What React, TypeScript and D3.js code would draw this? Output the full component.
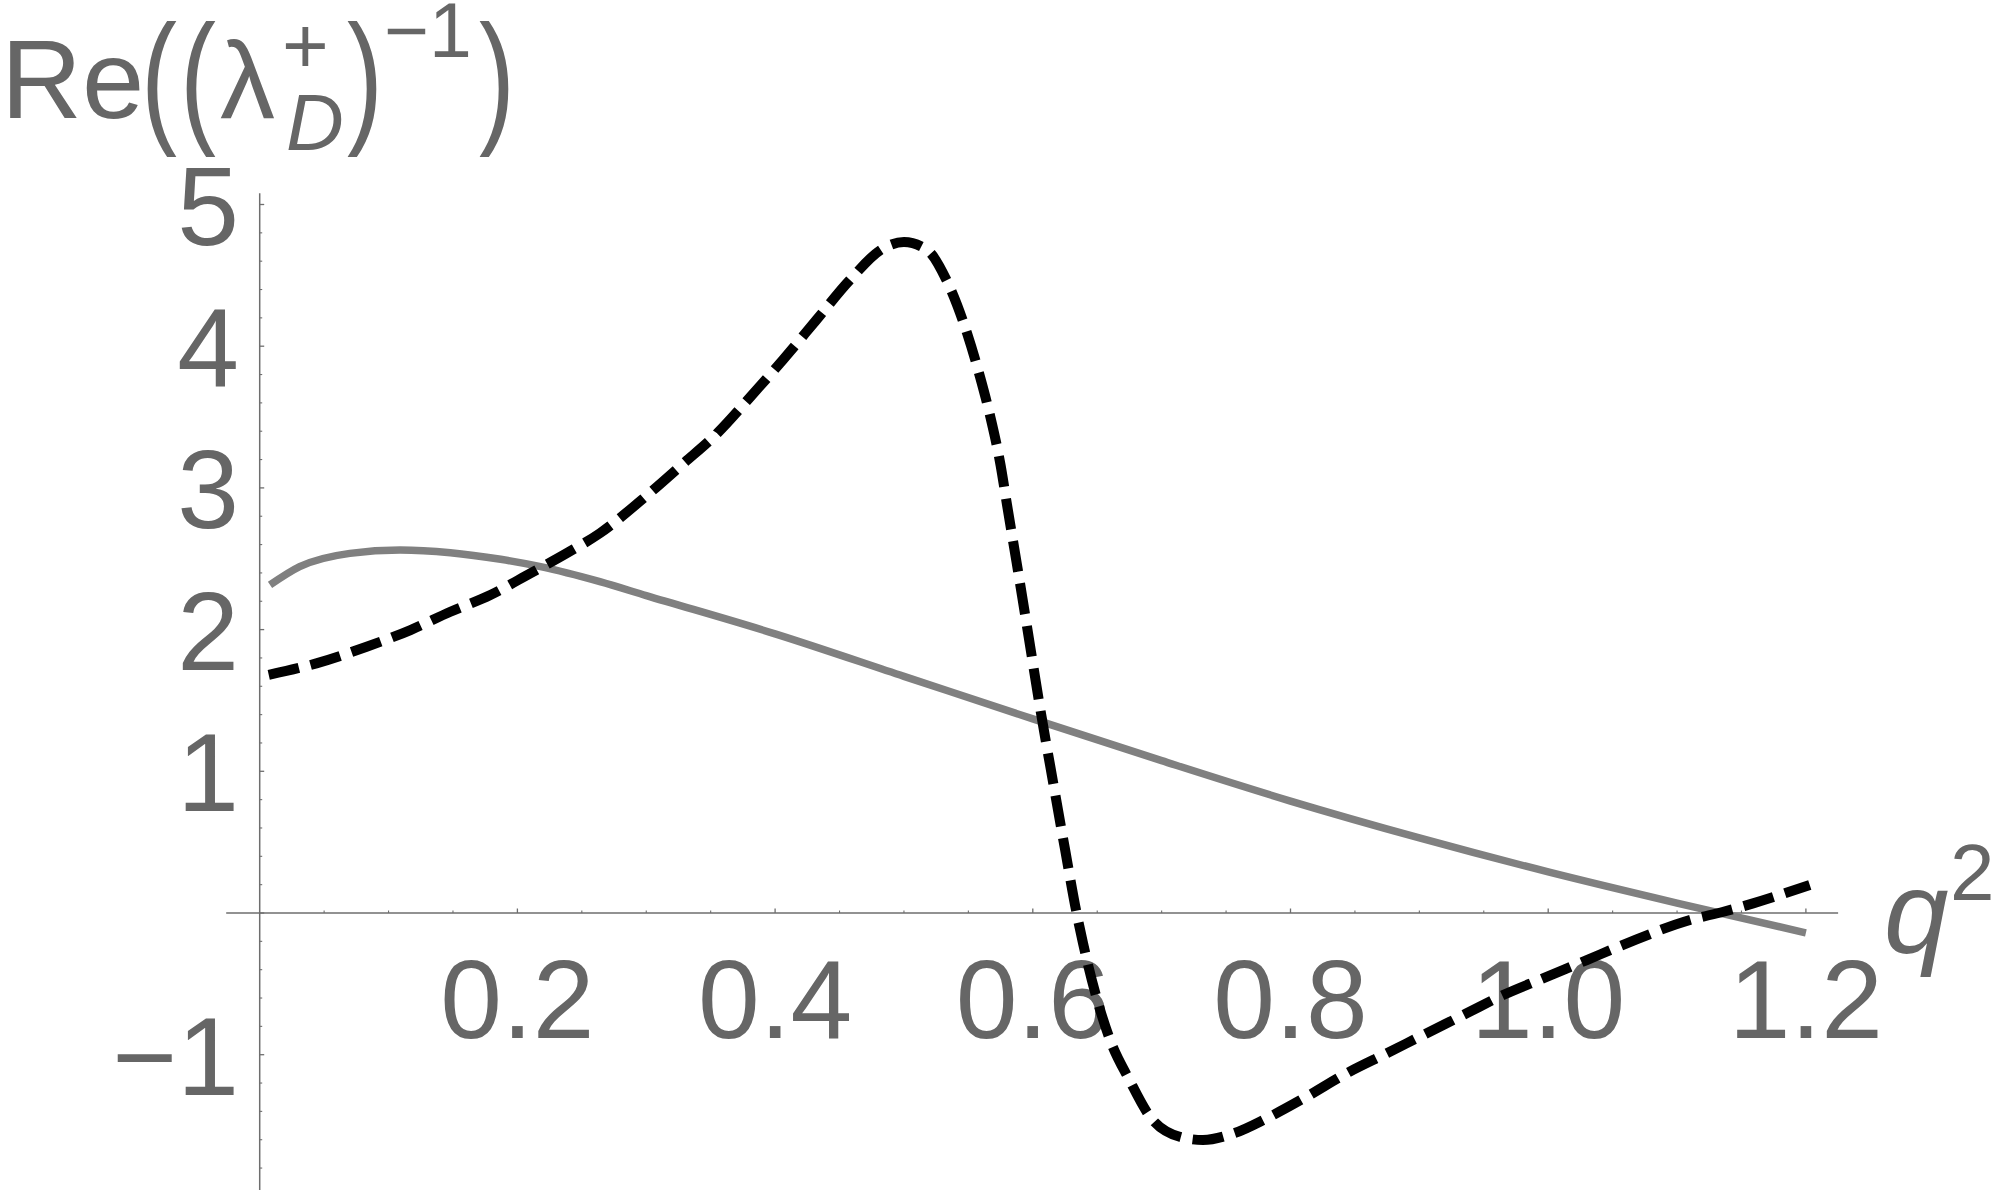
import React from 'react';
import * as d3 from 'd3';

// solid grey curve
const q2Solid = [0.008, 0.031, 0.07, 0.109, 0.148, 0.187, 0.218, 0.264, 0.3, 0.4, 0.5, 0.6, 0.7, 0.8, 0.9, 1.0, 1.1, 1.2];
const reSolid = [2.315, 2.444, 2.538, 2.562, 2.543, 2.496, 2.444, 2.338, 2.24, 1.97, 1.67, 1.37, 1.075, 0.79, 0.53, 0.29, 0.07, -0.14];

// dashed black curve
const q2Dashed = [0.007, 0.044, 0.083, 0.117, 0.148, 0.179, 0.21, 0.238, 0.264, 0.297, 0.329, 0.355, 0.381, 0.406, 0.432, 0.458, 0.484, 0.5, 0.518, 0.533, 0.549, 0.559, 0.567, 0.575, 0.58, 0.5875, 0.595, 0.6056, 0.616, 0.625, 0.634, 0.639, 0.66, 0.675, 0.691, 0.714, 0.732, 0.756, 0.7815, 0.8126, 0.8436, 0.8747, 0.903, 0.9367, 0.965, 0.996, 1.03, 1.061, 1.11, 1.136, 1.159, 1.203];
const reDashed = [1.68, 1.762, 1.879, 1.997, 2.126, 2.244, 2.397, 2.538, 2.68, 2.92, 3.174, 3.385, 3.644, 3.903, 4.185, 4.467, 4.691, 4.735, 4.679, 4.467, 4.091, 3.785, 3.503, 3.16, 2.88, 2.47, 2.05, 1.45, 0.91, 0.45, 0.0, -0.214, -0.896, -1.179, -1.437, -1.579, -1.602, -1.555, -1.449, -1.296, -1.131, -0.99, -0.861, -0.708, -0.579, -0.461, -0.332, -0.214, -0.049, 0.009, 0.068, 0.198];

const xTicks = [0.2, 0.4, 0.6, 0.8, 1.0, 1.2];
const xTickLabels = ['0.2', '0.4', '0.6', '0.8', '1.0', '1.2'];
const yTicks = [-1, 1, 2, 3, 4, 5];
const yTickLabels = ['\u22121', '1', '2', '3', '4', '5'];

const W = 2000;
const H = 1194;
const FONT = '"Liberation Sans", Arial, Helvetica, sans-serif';
const TEXT = '#666666';
const AXIS = '#6e6e6e';

// tall thin bracket like Mathematica's stretched parens
const Paren = ({ x, ch }: { x: number; ch: string }) => (
  <text transform={`translate(${x},127) scale(1,1.35)`} fontSize={108}>{ch}</text>
);

export default function App() {
  const x = d3.scaleLinear().domain([0, 1.2]).range([259.7, 1805.9]);
  const y = d3.scaleLinear().domain([-1, 5]).range([1054.7, 204.5]);

  const line = d3.line<[number, number]>()
    .x(d => x(d[0]))
    .y(d => y(d[1]))
    .curve(d3.curveMonotoneX);

  const solidPts = q2Solid.map((q, i) => [q, reSolid[i]] as [number, number]);
  const dashedPts = q2Dashed.map((q, i) => [q, reDashed[i]] as [number, number]);

  const xMinor = d3.range(1, 25).map(i => i * 0.05).filter(v => !xTicks.some(t => Math.abs(t - v) < 1e-6));
  const yMinor = d3.range(-9, 26).map(i => i * 0.2).filter(v => Math.abs(v - Math.round(v)) > 1e-6);
  const yMajorAll = [-1, 0, 1, 2, 3, 4, 5];

  const x0 = x(0);
  const y0 = y(0);

  return (
    <svg width={W} height={H} viewBox={`0 0 ${W} ${H}`} style={{ position: 'absolute', left: 0, top: 0, background: '#fff' }}>
      {/* axes */}
      <line x1={x(-0.026)} x2={x(1.225)} y1={y0} y2={y0} stroke={AXIS} strokeWidth={1.5} />
      <line x1={x0} x2={x0} y1={y(5.08)} y2={y(-1.955)} stroke={AXIS} strokeWidth={1.5} />

      {xTicks.map(t => (
        <line key={'xM' + t} x1={x(t)} x2={x(t)} y1={y0} y2={y0 - 4.5} stroke={AXIS} strokeWidth={1.3} />
      ))}
      {xMinor.map(t => (
        <line key={'xm' + t} x1={x(t)} x2={x(t)} y1={y0} y2={y0 - 2.5} stroke={AXIS} strokeWidth={1.1} />
      ))}
      {yMajorAll.map(t => (
        <line key={'yM' + t} x1={x0} x2={x0 + 4.5} y1={y(t)} y2={y(t)} stroke={AXIS} strokeWidth={1.3} />
      ))}
      {yMinor.map(t => (
        <line key={'ym' + t} x1={x0} x2={x0 + 2.5} y1={y(t)} y2={y(t)} stroke={AXIS} strokeWidth={1.1} />
      ))}

      {/* tick labels */}
      {xTicks.map((t, i) => (
        <text key={'xl' + t} x={x(t)} y={1038} textAnchor="middle" fontFamily={FONT} fontSize={111} fill={TEXT}>
          {xTickLabels[i]}
        </text>
      ))}
      {yTicks.map((t, i) => (
        <text key={'yl' + t} x={239} y={y(t) + 40} textAnchor="end" fontFamily={FONT} fontSize={111} fill={TEXT}>
          {yTickLabels[i]}
        </text>
      ))}

      {/* y label: Re((λ_D^+)^-1) */}
      <g fontFamily={FONT} fill={TEXT}>
        <text x={1} y={118} fontSize={112}>Re</text>
        <Paren x={141} ch="(" />
        <Paren x={180} ch="(" />
        <text x={220} y={118} fontSize={110}>λ</text>
        <text x={282} y={73} fontSize={80}>+</text>
        <text x={286} y={150} fontSize={80} fontStyle="italic">D</text>
        <Paren x={347} ch=")" />
        <text x={384} y={57} fontSize={77}>{'\u22121'}</text>
        <Paren x={479} ch=")" />
      </g>

      {/* x label: q^2 */}
      <g fontFamily={FONT} fill={TEXT}>
        <text x={1884} y={953} fontSize={116} fontStyle="italic">q</text>
        <text x={1950} y={900} fontSize={80}>2</text>
      </g>

      {/* curves */}
      <path d={line(solidPts) || ''} fill="none" stroke="#808080" strokeWidth={7.5} />
      <path d={line(dashedPts) || ''} fill="none" stroke="#000" strokeWidth={10} strokeDasharray="31 12" />
    </svg>
  );
}
